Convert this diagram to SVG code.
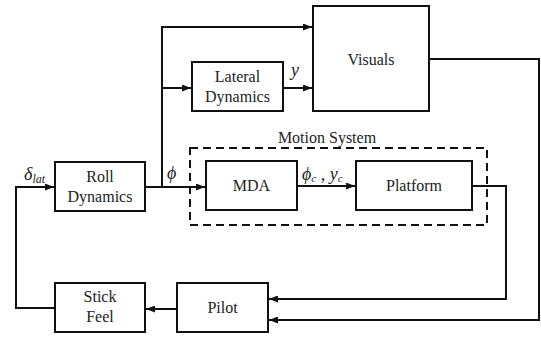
<svg xmlns="http://www.w3.org/2000/svg" width="541" height="338" viewBox="0 0 541 338">
<style>
.box{fill:#fff;stroke:#111;stroke-width:2}
text{font-family:"DejaVu Serif",serif}
.lbl{font-family:"Liberation Serif",serif;font-size:16px;fill:#222;text-anchor:middle}
.math{font-family:"Liberation Serif",serif;font-style:italic;fill:#222}
.wire{fill:none;stroke:#111;stroke-width:2}
</style>
<defs>
<marker id="arr" markerUnits="userSpaceOnUse" markerWidth="9" markerHeight="7" refX="9" refY="3.5" orient="auto">
<path d="M0,0 L9,3.5 L0,7 z" fill="#111"/>
</marker>
</defs>
<rect x="0" y="0" width="541" height="338" fill="#fff"/>
<g id="connectors">
<path class="wire" d="M55,308 H16 V187 H54" marker-end="url(#arr)"/>
<path class="wire" d="M145,187 H205" marker-end="url(#arr)"/>
<path class="wire" d="M162,187 V27 H312" marker-end="url(#arr)"/>
<path class="wire" d="M162,88 H191" marker-end="url(#arr)"/>
<path class="wire" d="M283,88 H312" marker-end="url(#arr)"/>
<path class="wire" d="M297,186 H355" marker-end="url(#arr)"/>
<path class="wire" d="M472,186 H506 V299 H269" marker-end="url(#arr)"/>
<path class="wire" d="M429,59 H539 V320 H269" marker-end="url(#arr)"/>
<path class="wire" d="M177,309 H146" marker-end="url(#arr)"/>
</g>
<g id="motion-system">
<rect x="190" y="148" width="297" height="77" fill="none" stroke="#111" stroke-width="2" stroke-dasharray="8,5"/>
<text class="lbl" x="327" y="143">Motion System</text>
</g>
<g id="roll-dynamics">
<rect class="box" x="55" y="162" width="90" height="49"/>
<text class="lbl" x="100" y="182">Roll</text>
<text class="lbl" x="100" y="202">Dynamics</text>
</g>
<g id="lateral-dynamics">
<rect class="box" x="192" y="62" width="91" height="49"/>
<text class="lbl" x="237.5" y="82">Lateral</text>
<text class="lbl" x="237.5" y="102">Dynamics</text>
</g>
<g id="visuals">
<rect class="box" x="313" y="6" width="116" height="105"/>
<text class="lbl" x="371" y="65">Visuals</text>
</g>
<g id="mda">
<rect class="box" x="206" y="161" width="91" height="49"/>
<text class="lbl" x="251.5" y="191">MDA</text>
</g>
<g id="platform">
<rect class="box" x="356" y="161" width="116" height="49"/>
<text class="lbl" x="414" y="191">Platform</text>
</g>
<g id="pilot">
<rect class="box" x="177" y="283" width="91" height="49"/>
<text class="lbl" x="222.5" y="313">Pilot</text>
</g>
<g id="stick-feel">
<rect class="box" x="55" y="283" width="90" height="49"/>
<text class="lbl" x="100" y="302">Stick</text>
<text class="lbl" x="100" y="322">Feel</text>
</g>
<g id="labels">
<text class="math" x="24" y="180" font-size="18">δ<tspan font-size="12" dy="3">lat</tspan></text>
<text class="math" x="167" y="179" font-size="18">ϕ</text>
<text class="math" x="291" y="76" font-size="18">y</text>
<text class="math" x="302" y="180" font-size="18">ϕ<tspan font-size="11" dy="2">c</tspan><tspan dy="-2"> , y</tspan><tspan font-size="11" dy="2">c</tspan></text>
</g>
</svg>
